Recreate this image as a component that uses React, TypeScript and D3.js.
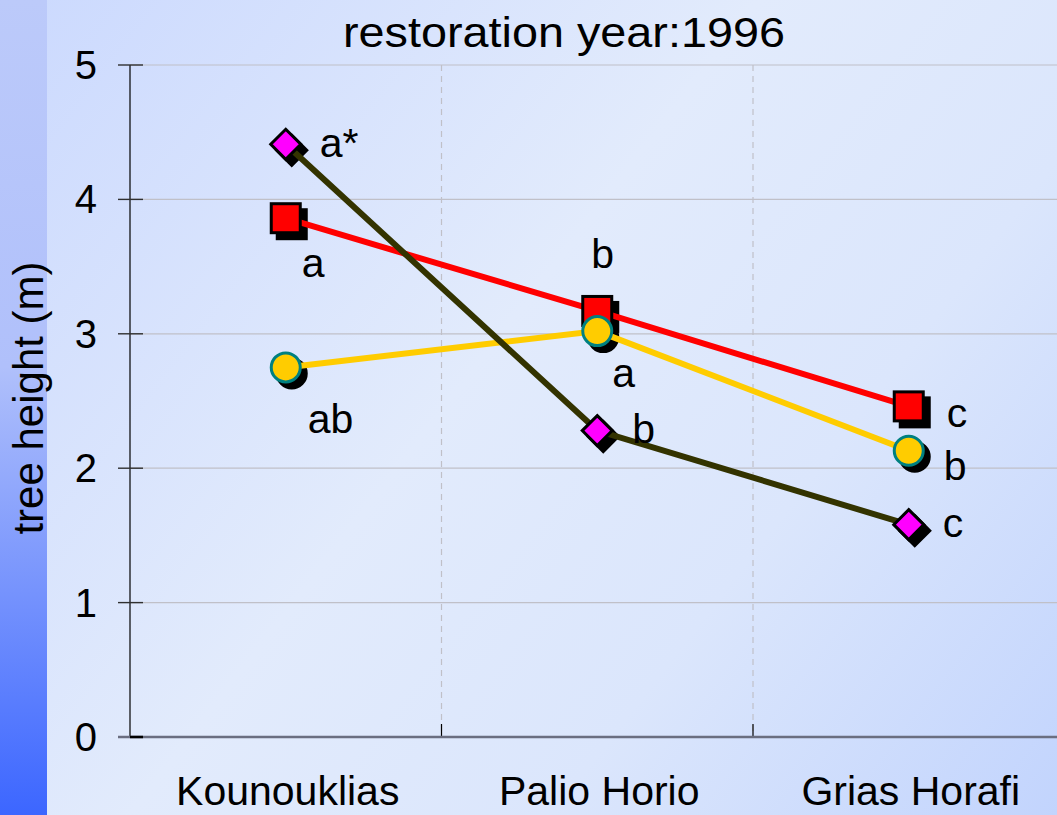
import { useEffect, useRef } from 'react';
import * as d3 from 'd3';

// chart data
const sites = ['Kounouklias', 'Palio Horio', 'Grias Horafi'];
const yTicks = [0, 1, 2, 3, 4, 5];

const redValues = [3.86, 3.17, 2.46];
const yellowValues = [2.75, 3.02, 2.13];
const oliveValues = [4.41, 2.28, 1.58];

// significance letters per series (one per site)
const redLetters = ['a', 'b', 'c'];
const yellowLetters = ['ab', 'a', 'b'];
const oliveLetters = ['a*', 'b', 'c'];

const titleText = 'restoration year:1996';
const yTitle = 'tree height (m)';

export default function App() {
    const svgRef = useRef<SVGSVGElement>(null);

    useEffect(() => {
        const width = 1057;
        const height = 815;
        const margin = { top: 65, left: 130, bottom: 78 };
        const bandWidth = 311.5;

        const svg = d3.select(svgRef.current);
        svg.selectAll('*').remove();
        svg.attr('width', width).attr('height', height);

        // Background gradients
        const defs = svg.append('defs');
        const bg = defs
            .append('linearGradient')
            .attr('id', 'bg')
            .attr('gradientUnits', 'userSpaceOnUse')
            .attr('x1', 0)
            .attr('y1', 0)
            .attr('x2', width)
            .attr('y2', height);
        bg.append('stop').attr('offset', '0%').attr('stop-color', '#cbd9fe');
        bg.append('stop').attr('offset', '45%').attr('stop-color', '#e2ebfc');
        bg.append('stop').attr('offset', '70%').attr('stop-color', '#dbe6fc');
        bg.append('stop').attr('offset', '100%').attr('stop-color', '#c2d4fd');

        const strip = defs
            .append('linearGradient')
            .attr('id', 'strip')
            .attr('x1', '0%')
            .attr('y1', '0%')
            .attr('x2', '0%')
            .attr('y2', '100%');
        strip.append('stop').attr('offset', '0%').attr('stop-color', '#bccafa');
        strip.append('stop').attr('offset', '45%').attr('stop-color', '#b0c0fb');
        strip.append('stop').attr('offset', '100%').attr('stop-color', '#3c66ff');

        svg.append('rect').attr('width', width).attr('height', height).attr('fill', 'url(#bg)');
        svg.append('rect').attr('width', 47).attr('height', height).attr('fill', 'url(#strip)');

        // Scales
        const x = d3
            .scaleBand()
            .domain(sites)
            .range([margin.left, margin.left + bandWidth * sites.length]);

        const y = d3
            .scaleLinear()
            .domain([0, 5])
            .range([height - margin.bottom, margin.top]);

        const cx = (d: string) => (x(d) as number) + x.bandwidth() / 2;
        const right = width;

        // Horizontal grid
        svg.append('g')
            .selectAll('line')
            .data(yTicks.filter((t) => t > 0))
            .enter()
            .append('line')
            .attr('x1', margin.left)
            .attr('x2', right)
            .attr('y1', (d) => y(d))
            .attr('y2', (d) => y(d))
            .attr('stroke', '#c0c0c8')
            .attr('stroke-width', 1.2);

        // Vertical dashed grid at category boundaries
        const bounds = sites.slice(1).map((s) => x(s) as number);
        svg.append('g')
            .selectAll('line')
            .data(bounds)
            .enter()
            .append('line')
            .attr('x1', (d) => d)
            .attr('x2', (d) => d)
            .attr('y1', y(5))
            .attr('y2', y(0))
            .attr('stroke', '#c0c0c8')
            .attr('stroke-width', 1.2)
            .attr('stroke-dasharray', '6,5');

        // small ticks at bottom
        svg.append('g')
            .selectAll('line')
            .data(bounds)
            .enter()
            .append('line')
            .attr('x1', (d) => d)
            .attr('x2', (d) => d)
            .attr('y1', y(0) - 13)
            .attr('y2', y(0))
            .attr('stroke', '#000')
            .attr('stroke-width', 1.2);

        // Y axis
        svg.append('line')
            .attr('x1', margin.left)
            .attr('x2', margin.left)
            .attr('y1', y(5))
            .attr('y2', y(0))
            .attr('stroke', '#000')
            .attr('stroke-width', 1.2);

        svg.append('g')
            .selectAll('line')
            .data(yTicks)
            .enter()
            .append('line')
            .attr('x1', margin.left - 12)
            .attr('x2', margin.left + 13)
            .attr('y1', (d) => y(d))
            .attr('y2', (d) => y(d))
            .attr('stroke', '#303030')
            .attr('stroke-width', 1.4);

        // X axis
        svg.append('line')
            .attr('x1', margin.left - 12)
            .attr('x2', right)
            .attr('y1', y(0))
            .attr('y2', y(0))
            .attr('stroke', '#6a6e80')
            .attr('stroke-width', 2.5);
        svg.append('line')
            .attr('x1', margin.left)
            .attr('x2', margin.left + 13)
            .attr('y1', y(0))
            .attr('y2', y(0))
            .attr('stroke', '#000')
            .attr('stroke-width', 2.5);

        const font = "'Liberation Sans', Arial, sans-serif";

        // Tick labels
        svg.append('g')
            .selectAll('text')
            .data(yTicks)
            .enter()
            .append('text')
            .attr('x', 97)
            .attr('y', (d) => y(d) + 14)
            .attr('text-anchor', 'end')
            .style('font-family', font)
            .style('font-size', '40px')
            .text((d) => d);

        // category labels
        svg.append('g')
            .selectAll('text')
            .data(sites)
            .enter()
            .append('text')
            .attr('x', (d) => cx(d) + 2)
            .attr('y', 805)
            .attr('text-anchor', 'middle')
            .style('font-family', font)
            .style('font-size', '41px')
            .text((d) => d);

        // Titles
        svg.append('text')
            .attr('x', 343)
            .attr('y', 47)
            .attr('textLength', 442)
            .attr('lengthAdjust', 'spacingAndGlyphs')
            .style('font-family', font)
            .style('font-size', '42px')
            .text(titleText);

        svg.append('text')
            .attr('transform', `translate(43,${398}) rotate(-90)`)
            .attr('text-anchor', 'middle')
            .style('font-family', font)
            .style('font-size', '42px')
            .text(yTitle);

        // Series
        const series = [
            { key: 'red', values: redValues, letters: redLetters, line: '#ff0000', fill: '#ff0000', stroke: '#000', shape: 'square' },
            { key: 'olive', values: oliveValues, letters: oliveLetters, line: '#333300', fill: '#ff00ff', stroke: '#000', shape: 'diamond' },
            { key: 'yellow', values: yellowValues, letters: yellowLetters, line: '#ffcc00', fill: '#ffcc00', stroke: '#008080', shape: 'circle' },
        ];

        const pts = (s: any) => sites.map((site, i) => ({ site, v: s.values[i], letter: s.letters[i] }));

        const drawMarker = (g: any, shape: string, px: number, py: number, fill: string, stroke: string) => {
            if (shape === 'square') {
                g.append('rect')
                    .attr('x', px - 14.5)
                    .attr('y', py - 14.5)
                    .attr('width', 29)
                    .attr('height', 29)
                    .attr('fill', fill)
                    .attr('stroke', stroke)
                    .attr('stroke-width', 3);
            } else if (shape === 'diamond') {
                const r = 15;
                g.append('path')
                    .attr('d', `M${px},${py - r}L${px + r},${py}L${px},${py + r}L${px - r},${py}Z`)
                    .attr('fill', fill)
                    .attr('stroke', stroke)
                    .attr('stroke-width', 3)
                    .attr('stroke-linejoin', 'miter');
            } else {
                g.append('circle')
                    .attr('cx', px)
                    .attr('cy', py)
                    .attr('r', 14.5)
                    .attr('fill', fill)
                    .attr('stroke', stroke)
                    .attr('stroke-width', 3);
            }
        };

        // shadows
        const shadowG = svg.append('g');
        series.forEach((s) => {
            pts(s).forEach((p) => drawMarker(shadowG, s.shape, cx(p.site) + 6, y(p.v) + 6, '#000', '#000'));
        });

        // lines (red, yellow, then olive on top)
        const lineGen = d3
            .line<any>()
            .x((p) => cx(p.site))
            .y((p) => y(p.v));
        const lineOrder = [series[0], series[2], series[1]];
        lineOrder.forEach((s) => {
            svg.append('path')
                .datum(pts(s))
                .attr('d', lineGen)
                .attr('fill', 'none')
                .attr('stroke', s.line)
                .attr('stroke-width', 6);
        });

        // markers
        const markG = svg.append('g');
        series.forEach((s) => {
            pts(s).forEach((p) => drawMarker(markG, s.shape, cx(p.site), y(p.v), s.fill, s.stroke));
        });

        // significance letters, offsets from each marker
        const letterOffsets: Record<string, [number, number][]> = {
            red: [[16, 59], [-6, -43], [38, 21]],
            yellow: [[22, 66], [15, 56], [35, 29]],
            olive: [[34, 13], [35, 12], [34, 12]],
        };
        const textG = svg.append('g');
        series.forEach((s) => {
            pts(s).forEach((p, i) => {
                const [dx, dy] = letterOffsets[s.key][i];
                textG
                    .append('text')
                    .attr('x', cx(p.site) + dx)
                    .attr('y', y(p.v) + dy)
                    .style('font-family', font)
                    .style('font-size', '41px')
                    .text(p.letter);
            });
        });
    }, []);

    return (
        <div style={{ position: 'absolute', left: 0, top: 0 }}>
            <svg ref={svgRef} style={{ display: 'block' }}></svg>
        </div>
    );
}
